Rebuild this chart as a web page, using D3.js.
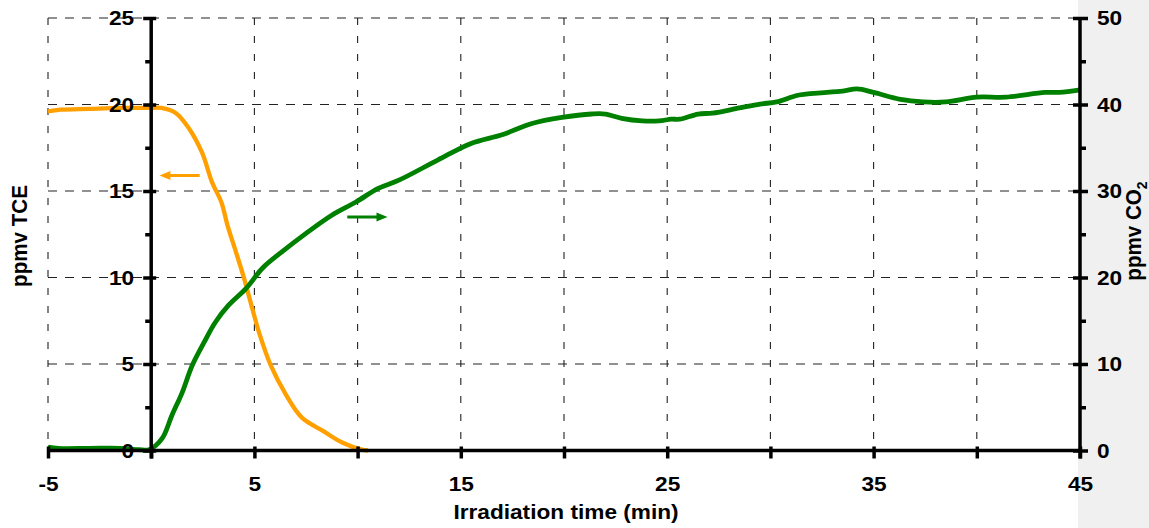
<!DOCTYPE html>
<html>
<head>
<meta charset="utf-8">
<script src="https://cdn.jsdelivr.net/npm/d3@7"></script>
<style>
  html, body { margin: 0; padding: 0; background: #ffffff; }
  svg { display: block; }
  text { font-family: "Liberation Sans", Arial, sans-serif; font-weight: bold; fill: #000; }
</style>
</head>
<body>
<svg id="chart" width="1149" height="528"></svg>
<script>
// TCE concentration (left axis, ppmv) against irradiation time (min)
const tceTime  = [-5, -4.4, -3, -1.5, -0.1, 0.5, 1.2, 1.84, 2.47, 2.95, 3.4, 3.7, 4.1, 4.5, 4.9, 5.23, 5.8, 6.54, 7.3, 8.3, 9.25, 10.2, 10.5];
const tceValue = [19.6, 19.7, 19.75, 19.8, 19.8, 19.8, 19.5, 18.6, 17.2, 15.5, 14.35, 13.0, 11.5, 9.95, 8.2, 6.8, 4.9, 3.2, 1.9, 1.15, 0.46, 0.05, 0];

// CO2 concentration (right axis, ppmv)
const co2Time  = [-5, -4.5, -3, -1.5, -0.6, -0.1, 0.53, 1.0, 1.5, 1.98, 2.56, 3.1, 3.75, 4.6, 5.4, 6.3, 7.5, 8.75, 9.9, 11.0, 12.0, 13.9, 15.5, 17.0, 18.45, 19.9, 21.35, 22.0, 22.8, 23.8, 24.6, 25.2, 25.6, 26.5, 27.2, 28.5, 29.5, 30.3, 31.4, 33.5, 34.2, 35.0, 36.3, 37.4, 38.5, 40.0, 41.4, 43.3, 44.0, 45];
const co2Value = [0.4, 0.25, 0.25, 0.25, 0.1, 0.1, 1.4, 4.05, 6.7, 9.8, 12.5, 14.8, 16.8, 18.75, 21.1, 22.9, 25.1, 27.2, 28.7, 30.3, 31.25, 33.6, 35.5, 36.5, 37.8, 38.5, 38.9, 38.9, 38.4, 38.1, 38.1, 38.3, 38.3, 38.9, 39.0, 39.6, 40.05, 40.3, 41.1, 41.55, 41.8, 41.4, 40.6, 40.3, 40.3, 40.85, 40.85, 41.4, 41.4, 41.7];

// Axis ticks
const xTicks      = [-5, 0, 5, 10, 15, 20, 25, 30, 35, 40, 45];
const xLabels     = [-5, 5, 15, 25, 35, 45];
const xGrid       = [-5, 5, 10, 15, 20, 25, 30, 35, 40];
const leftTicks   = [0, 5, 10, 15, 20, 25];
const leftMinor   = [2.5, 7.5, 12.5, 17.5, 22.5];
const rightTicks  = [0, 10, 20, 30, 40, 50];
const rightMinor  = [5, 15, 25, 35, 45];

const svg = d3.select("#chart");
const W = 1149, H = 528;
const FS = 20.6;      // label font size
const SX = 1.1;       // horizontal widening of the lettering

const x  = d3.scaleLinear().domain([-5, 45]).range([48, 1080]);
const yL = d3.scaleLinear().domain([0, 25]).range([450.5, 18]);
const yR = d3.scaleLinear().domain([0, 50]).range([450.5, 18]);

// grey strip on the right side of the figure
svg.append("rect").attr("x", 1078).attr("y", 0).attr("width", W - 1078).attr("height", H).attr("fill", "#f0f0f0");
svg.append("rect").attr("x", x(-5)).attr("y", yL(25)).attr("width", x(45) - x(-5)).attr("height", yL(0) - yL(25)).attr("fill", "#fff");

// dashed grid
const grid = svg.append("g").attr("stroke", "#222").attr("stroke-width", 1.1).attr("fill", "none");
grid.selectAll("line.h").data(leftTicks.filter(d => d > 0)).join("line")
  .attr("x1", x(-5)).attr("x2", x(45))
  .attr("y1", d => yL(d)).attr("y2", d => yL(d))
  .attr("stroke-dasharray", "9,8");
grid.selectAll("line.v").data(xGrid).join("line")
  .attr("x1", d => x(d)).attr("x2", d => x(d))
  .attr("y1", yL(25)).attr("y2", yL(0))
  .attr("stroke-dasharray", "7,11");

// series
const lineTCE = d3.line().x(d => x(d[0])).y(d => yL(d[1])).curve(d3.curveCatmullRom);
const lineCO2 = d3.line().x(d => x(d[0])).y(d => yR(d[1])).curve(d3.curveCatmullRom);

svg.append("path").datum(d3.zip(tceTime, tceValue))
  .attr("d", lineTCE).attr("fill", "none").attr("stroke", "#ffa000").attr("stroke-width", 4.3).attr("stroke-linejoin", "round");
svg.append("path").datum(d3.zip(co2Time, co2Value))
  .attr("d", lineCO2).attr("fill", "none").attr("stroke", "#008000").attr("stroke-width", 4.8).attr("stroke-linejoin", "round");

// arrows pointing to each series' axis
function arrow(x1, x2, y, color, dir) {
  const tip = dir < 0 ? Math.min(x1, x2) : Math.max(x1, x2);
  const tail = dir < 0 ? Math.max(x1, x2) : Math.min(x1, x2);
  svg.append("line").attr("x1", tail).attr("x2", tip - dir * 6).attr("y1", y).attr("y2", y)
    .attr("stroke", color).attr("stroke-width", 3);
  svg.append("path")
    .attr("d", `M${tip},${y} L${tip - dir * 11},${y - 4.5} L${tip - dir * 11},${y + 4.5} Z`)
    .attr("fill", color);
}
arrow(x(0.4), x(2.35), yL(15.9), "#ffa000", -1);
arrow(x(9.5), x(11.45), yR(27.0), "#008000", 1);

// axes
const axW = 3.5;
function styleAxis(g) {
  g.select(".domain").remove();
  g.selectAll("line").attr("stroke", "#000").attr("stroke-width", axW);
  g.selectAll("text").style("font-size", FS + "px").attr("fill", "#000")
    .each(function () {
      const t = d3.select(this);
      const tx = +t.attr("x") || 0;
      t.attr("x", tx / SX).attr("transform", `scale(${SX},1)`);
    });
}

// x axis
const gx = svg.append("g").attr("transform", `translate(0,${yL(0)})`)
  .call(d3.axisBottom(x).tickValues(xTicks).tickSizeInner(8).tickSizeOuter(0).tickPadding(18)
    .tickFormat(d => xLabels.includes(d) ? d : ""));
styleAxis(gx);
gx.selectAll(".tick line").attr("y1", -4).attr("y2", 8);
svg.append("line").attr("x1", x(-5)).attr("x2", x(45)).attr("y1", yL(0)).attr("y2", yL(0))
  .attr("stroke", "#000").attr("stroke-width", axW);

// left axis placed at t = 0
const gl = svg.append("g").attr("transform", `translate(${x(0)},0)`)
  .call(d3.axisLeft(yL).tickValues(leftTicks).tickSizeInner(8).tickSizeOuter(0).tickPadding(9));
styleAxis(gl);
gl.selectAll(".tick line").attr("x1", 5).attr("x2", -8);
const glm = svg.append("g").attr("transform", `translate(${x(0)},0)`)
  .call(d3.axisLeft(yL).tickValues(leftMinor).tickSize(6).tickFormat(""));
styleAxis(glm);
svg.append("line").attr("x1", x(0)).attr("x2", x(0)).attr("y1", yL(25) - 1).attr("y2", yL(0) + 8)
  .attr("stroke", "#000").attr("stroke-width", axW);

// right axis
const gr = svg.append("g").attr("transform", `translate(${x(45)},0)`)
  .call(d3.axisRight(yR).tickValues(rightTicks).tickSizeInner(8).tickSizeOuter(0).tickPadding(9));
styleAxis(gr);
gr.selectAll(".tick line").attr("x1", -7).attr("x2", 8);
const grm = svg.append("g").attr("transform", `translate(${x(45)},0)`)
  .call(d3.axisRight(yR).tickValues(rightMinor).tickSize(6).tickFormat(""));
styleAxis(grm);
svg.append("line").attr("x1", x(45)).attr("x2", x(45)).attr("y1", yR(50) - 1).attr("y2", yR(0) + 8)
  .attr("stroke", "#000").attr("stroke-width", axW);

// axis titles
svg.append("text").attr("transform", `translate(566,519) scale(${SX},1)`).attr("text-anchor", "middle")
  .style("font-size", FS + "px").text("Irradiation time (min)");
svg.append("text").attr("transform", `translate(27,236) rotate(-90) scale(1,${SX})`).attr("text-anchor", "middle")
  .style("font-size", FS + "px").text("ppmv TCE");
const rt = svg.append("text").attr("transform", `translate(1141,231) rotate(-90) scale(1,${SX})`).attr("text-anchor", "middle")
  .style("font-size", FS + "px");
rt.append("tspan").text("ppmv CO");
rt.append("tspan").attr("dy", 5).style("font-size", "14px").text("2");
</script>
</body>
</html>
